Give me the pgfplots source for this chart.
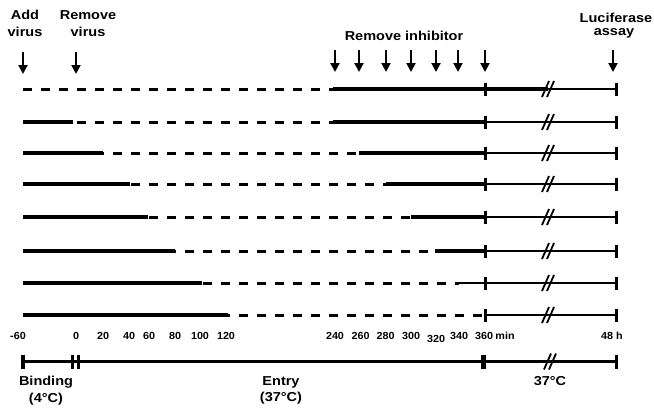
\documentclass[border=0pt]{standalone}
\usepackage{graphicx}
\usepackage{fontspec}
\setmainfont{Liberation Sans}
\usepackage{pgfplots}
\pgfplotsset{compat=1.18}
\usetikzlibrary{arrows.meta}
\newcommand{\lbl}[1]{\fontsize{13}{15}\selectfont\bfseries\scalebox{1.12}[1]{#1}}
\newcommand{\tk}[1]{\fontsize{10.3}{12}\selectfont\bfseries\scalebox{1.05}[1]{#1}}
\begin{document}
\begin{tikzpicture}
\begin{axis}[hide axis, scale only axis, width=654bp, height=410bp,
  xmin=0, xmax=654, ymin=0, ymax=410, y dir=reverse, clip=false,
  solk/.style={black, line width=3.5bp},
  dsh/.style={black, line width=3bp, dash pattern=on 9bp off 9bp},
  thn/.style={black, line width=2.4bp},
  thm/.style={black, line width=3.1bp},
  tck/.style={black, line width=3bp},
  brk/.style={black, line width=1.8bp},
  arr/.style={black, line width=2bp, -{Triangle[width=9bp,length=9bp]}}]
% ---------- row 1 (y=89)
\addplot[dsh] coordinates {(23,89) (333,89)};
\addplot[solk] coordinates {(333,89) (485,89)};
\addplot[solk] coordinates {(485,89) (548,89)};
\addplot[thn] coordinates {(548,89) (616,89)};
% ---------- row 2 (y=122)
\addplot[dsh] coordinates {(23,122) (333,122)};
\addplot[solk] coordinates {(23,122) (73,122)};
\addplot[solk] coordinates {(333,122) (485,122)};
\addplot[thn] coordinates {(485,122) (616,122)};
% ---------- row 3 (y=153)
\addplot[dsh] coordinates {(23,153) (359,153)};
\addplot[solk] coordinates {(23,153) (103,153)};
\addplot[solk] coordinates {(359,153) (485,153)};
\addplot[thn] coordinates {(485,153) (616,153)};
% ---------- row 4 (y=184)
\addplot[dsh] coordinates {(23,184) (386,184)};
\addplot[solk] coordinates {(23,184) (130,184)};
\addplot[solk] coordinates {(386,184) (485,184)};
\addplot[thn] coordinates {(485,184) (616,184)};
% ---------- row 5 (y=217)
\addplot[dsh] coordinates {(23,217) (411,217)};
\addplot[solk] coordinates {(23,217) (148,217)};
\addplot[solk] coordinates {(411,217) (485,217)};
\addplot[thn] coordinates {(485,217) (616,217)};
% ---------- row 6 (y=251)
\addplot[dsh] coordinates {(23,251) (435,251)};
\addplot[solk] coordinates {(23,251) (175,251)};
\addplot[solk] coordinates {(435,251) (485,251)};
\addplot[thn] coordinates {(485,251) (616,251)};
% ---------- row 7 (y=283)
\addplot[dsh] coordinates {(23,283) (459,283)};
\addplot[thm] coordinates {(23,283) (202,283)};
\addplot[thn] coordinates {(459,283) (485,283)};
\addplot[thn] coordinates {(485,283) (616,283)};
% ---------- row 8 (y=315)
\addplot[dsh] coordinates {(23,315) (483,315)};
\addplot[thm] coordinates {(23,315) (228,315)};
\addplot[thn] coordinates {(485,315) (616,315)};
% ---------- row ticks at 485 and 616, and break marks
\foreach \yy in {89,122,153,184,217,251,283,315} {
  \edef\tmp{\noexpand\addplot[tck] coordinates {(485,\yy-6.5) (485,\yy+6.5)};
    \noexpand\addplot[tck] coordinates {(616,\yy-6.5) (616,\yy+6.5)};
    \noexpand\addplot[brk] coordinates {(542,\yy+8) (549,\yy-8)};
    \noexpand\addplot[brk] coordinates {(547,\yy+8) (554,\yy-8)};}
  \tmp
}
% ---------- bottom bar (y=361.5)
\addplot[solk, line width=3.6bp] coordinates {(23,361.5) (485,361.5)};
\addplot[thn] coordinates {(485,361.5) (616,361.5)};
\addplot[tck, line width=3.3bp] coordinates {(23,354.5) (23,368.5)};
\addplot[tck] coordinates {(72.5,354.5) (72.5,368.5)};
\addplot[tck] coordinates {(78,354.5) (78,368.5)};
\addplot[black, line width=5.5bp] coordinates {(483.5,354.5) (483.5,368.5)};
\addplot[tck] coordinates {(616,354.5) (616,368.5)};
\addplot[brk] coordinates {(544,369.5) (551,353.5)};
\addplot[brk] coordinates {(549,369.5) (556,353.5)};
% ---------- arrows
\addplot[arr] coordinates {(23,52) (23,74)};
\addplot[arr] coordinates {(76,52) (76,74)};
\foreach \xx in {335,359,386,411,436,458,485,613} {
  \edef\tmp{\noexpand\addplot[arr] coordinates {(\xx,50) (\xx,72)};}
  \tmp
}
% ---------- texts
\node at (axis cs:25,15) {\lbl{Add}};
\node at (axis cs:25,32) {\lbl{virus}};
\node at (axis cs:88,15) {\lbl{Remove}};
\node at (axis cs:88,32) {\lbl{virus}};
\node at (axis cs:404,36) {\lbl{Remove inhibitor}};
\node at (axis cs:616,18) {\lbl{Luciferase}};
\node at (axis cs:614,33) {\lbl{assay}};
\node at (axis cs:18,336) {\tk{-60}};
\node at (axis cs:76,336) {\tk{0}};
\node at (axis cs:103,336) {\tk{20}};
\node at (axis cs:129,336) {\tk{40}};
\node at (axis cs:149,336) {\tk{60}};
\node at (axis cs:175,336) {\tk{80}};
\node at (axis cs:200,336) {\tk{100}};
\node at (axis cs:226,336) {\tk{120}};
\node at (axis cs:335,336) {\tk{240}};
\node at (axis cs:360.7,336) {\tk{260}};
\node at (axis cs:385.7,336) {\tk{280}};
\node at (axis cs:411,336) {\tk{300}};
\node at (axis cs:436,339) {\tk{320}};
\node at (axis cs:459,336) {\tk{340}};
\node at (axis cs:484,336) {\tk{360}};
\node at (axis cs:505,336) {\tk{min}};
\node at (axis cs:612,336) {\tk{48 h}};
\node at (axis cs:46,382) {\lbl{Binding}};
\node at (axis cs:46,399) {\lbl{(4°C)}};
\node at (axis cs:281,382) {\lbl{Entry}};
\node at (axis cs:281,398) {\lbl{(37°C)}};
\node at (axis cs:550,381) {\lbl{37°C}};
\end{axis}
\pgfresetboundingbox
\path[use as bounding box] (0,0) rectangle (654bp,410bp);
\end{tikzpicture}
\end{document}
